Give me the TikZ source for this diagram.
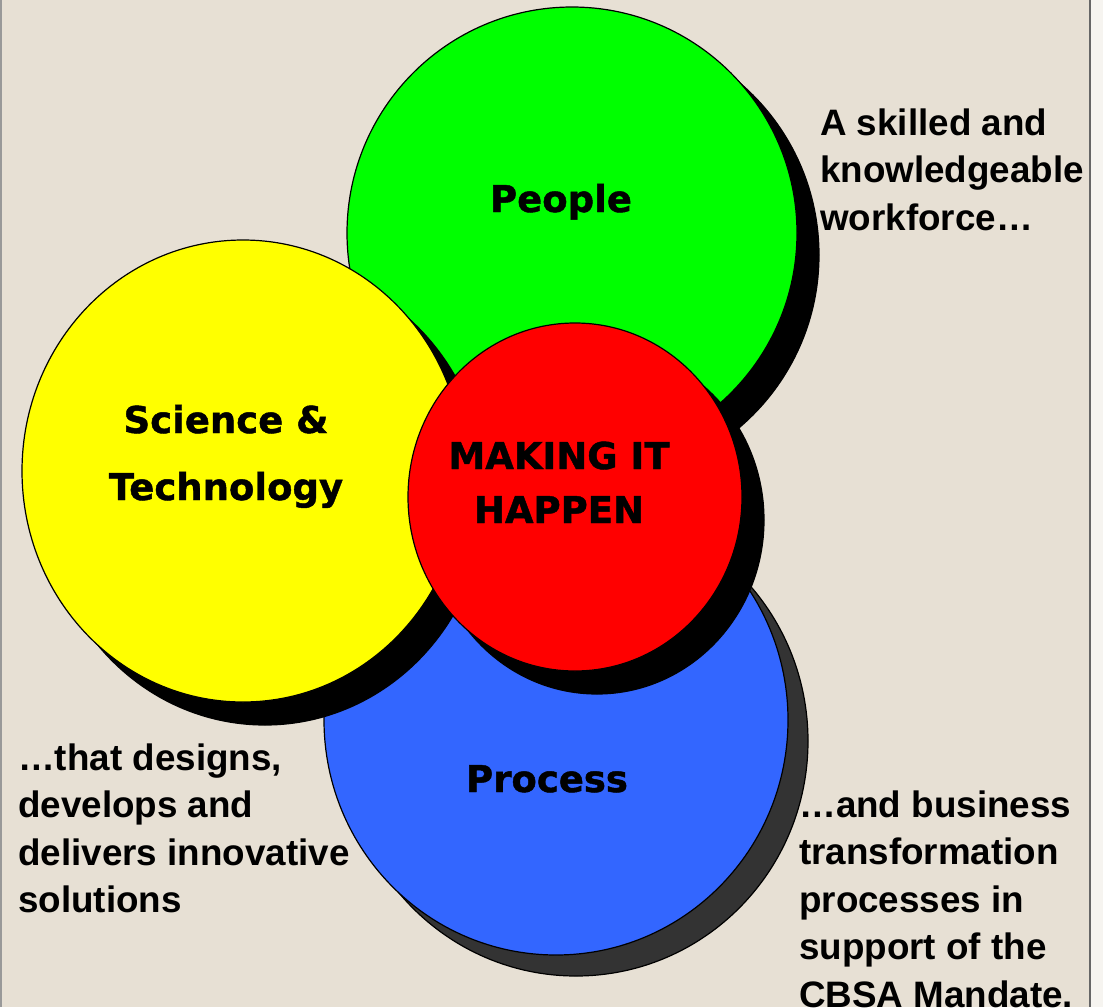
\documentclass[tikz,border=0pt]{standalone}
\usepackage{fontspec}
\setmainfont{Liberation Sans}
\newfontfamily\heavyfont{DejaVu Sans}[BoldFeatures={FakeBold=1.2}]
\usetikzlibrary{shapes.geometric}
\definecolor{bg}{HTML}{E7E0D4}
\definecolor{rightbg}{HTML}{F6F4F0}
\definecolor{greenfill}{HTML}{00FF00}
\definecolor{yellowfill}{HTML}{FFFF00}
\definecolor{redfill}{HTML}{FF0000}
\definecolor{bluefill}{HTML}{3366FF}
\definecolor{darkshadow}{HTML}{333333}
\begin{document}
\begin{tikzpicture}[x=1pt,y=-1pt,
  disc/.style={ellipse, draw=black, line width=1.2pt, inner sep=0pt},
  sidetext/.style={anchor=base west, inner sep=0pt, font=\bfseries\fontsize{36.8}{47.5}\selectfont},
  disclabel/.style={anchor=base, inner sep=0pt, font=\heavyfont\bfseries\fontsize{37}{44}\selectfont}]
\useasboundingbox (0,0) rectangle (1103,1007);
\fill[bg] (0,0) rectangle (1090,1007);
\fill[rightbg] (1090,0) rectangle (1103,1007);
\draw[line width=1.5pt, color=black!40] (0.75,0) -- (0.75,1007);
\draw[line width=1.5pt, color=black!60] (1090,0) -- (1090,1007);

% blue
\node[disc, fill=darkshadow, minimum width=464pt, minimum height=470pt] (blueshadow) at (576,741) {};
\node[disc, fill=bluefill, minimum width=464pt, minimum height=470pt] (bluedisc) at (556,720) {};
% green
\node[disc, fill=black, minimum width=450pt, minimum height=452pt] (greenshadow) at (594,255) {};
\node[disc, fill=greenfill, minimum width=450pt, minimum height=452pt] (greendisc) at (572,233) {};
% yellow
\node[disc, fill=black, minimum width=442pt, minimum height=462pt] (yellowshadow) at (265,494) {};
\node[disc, fill=yellowfill, minimum width=442pt, minimum height=462pt] (yellowdisc) at (243,471) {};
% red
\node[disc, fill=black, minimum width=334pt, minimum height=348pt] (redshadow) at (597,520) {};
\node[disc, fill=redfill, minimum width=334pt, minimum height=348pt] (reddisc) at (575,497) {};

% labels in discs
\node[disclabel] (peoplelabel) at (561,212) {People};
\node[disclabel, font=\heavyfont\bfseries\fontsize{37}{67}\selectfont] (sciencelabel) at (226,433)
  {\begin{tabular}[t]{@{}c@{}}Science \&\\Technology\end{tabular}};
\node[disclabel, font=\heavyfont\bfseries\fontsize{37}{54}\selectfont] (makinglabel) at (559,469)
  {\begin{tabular}[t]{@{}c@{}}MAKING IT\\HAPPEN\end{tabular}};
\node[disclabel] (processlabel) at (547,792) {Process};

% side texts
\node[sidetext] (workforcetext) at (820,135)
  {\begin{tabular}[t]{@{}l@{}}A skilled and\\knowledgeable\\workforce…\end{tabular}};
\node[sidetext] (solutionstext) at (18,770)
  {\begin{tabular}[t]{@{}l@{}}…that designs,\\develops and\\delivers innovative\\solutions\end{tabular}};
\node[sidetext] (mandatetext) at (799,817)
  {\begin{tabular}[t]{@{}l@{}}…and business\\transformation\\processes in\\support of the\\CBSA Mandate.\end{tabular}};
\end{tikzpicture}
\end{document}
